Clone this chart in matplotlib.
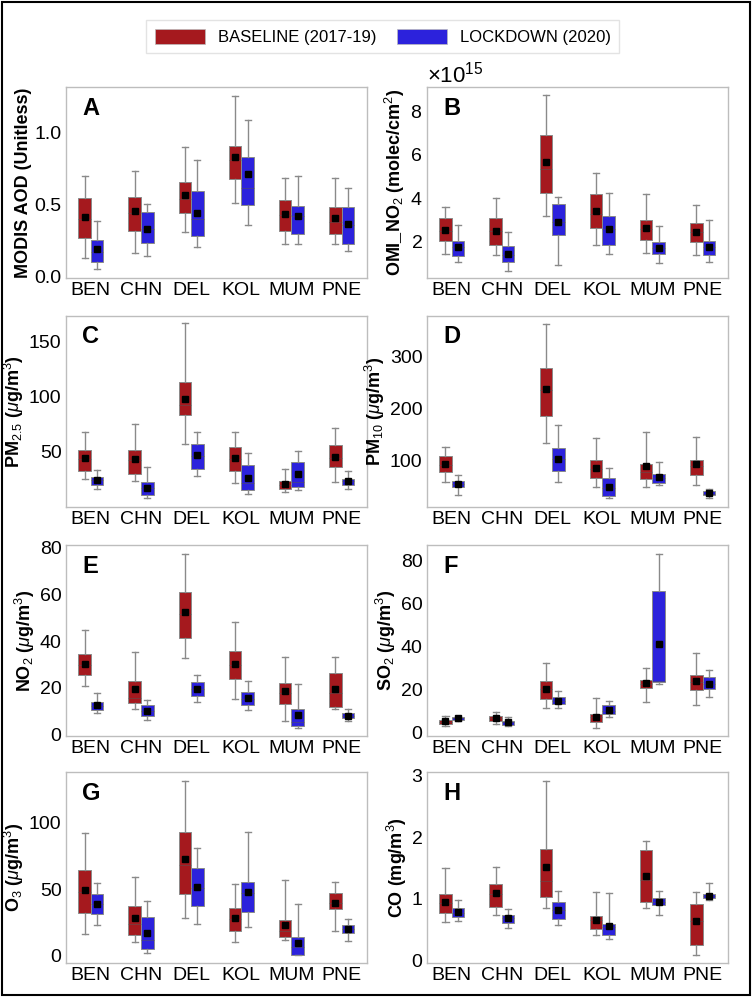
import matplotlib
matplotlib.use("Agg")
import matplotlib.pyplot as plt
from matplotlib.patches import Patch, Rectangle
from matplotlib.ticker import ScalarFormatter

plt.rcParams['font.family'] = ['Liberation Sans', 'DejaVu Sans']
plt.rcParams['mathtext.fontset'] = 'custom'
plt.rcParams['mathtext.rm'] = 'Liberation Sans'
plt.rcParams['mathtext.it'] = 'Liberation Sans:italic'
plt.rcParams['mathtext.bf'] = 'Liberation Sans:bold'

CITIES = ['BEN', 'CHN', 'DEL', 'KOL', 'MUM', 'PNE']
# each row: [whisker_low, q1, median, q3, whisker_high, mean]
aod_base = [[0.127, 0.27, 0.40, 0.55, 0.70, 0.417], [0.162, 0.315, 0.44, 0.556, 0.734, 0.456],
            [0.308, 0.444, 0.537, 0.657, 0.903, 0.569], [0.51, 0.68, 0.81, 0.912, 1.26, 0.833],
            [0.229, 0.315, 0.43, 0.532, 0.688, 0.433], [0.225, 0.294, 0.38, 0.486, 0.683, 0.41]]
aod_lock = [[0.053, 0.104, 0.17, 0.255, 0.39, 0.194], [0.146, 0.234, 0.33, 0.447, 0.507, 0.331],
            [0.204, 0.282, 0.40, 0.593, 0.81, 0.44], [0.356, 0.495, 0.62, 0.831, 1.093, 0.715],
            [0.229, 0.299, 0.42, 0.493, 0.697, 0.424], [0.18, 0.229, 0.36, 0.481, 0.62, 0.368]]
no2col_base = [[1.45, 2.03, 2.5, 3.08, 3.62, 2.55], [1.38, 1.88, 2.5, 3.08, 4.02, 2.52],
               [3.18, 4.26, 5.34, 6.89, 8.72, 5.66], [1.85, 2.65, 3.26, 4.18, 5.15, 3.40],
               [1.48, 2.08, 2.6, 3.0, 4.18, 2.65], [1.4, 2.0, 2.45, 2.86, 3.69, 2.46]]
no2col_lock = [[1.08, 1.34, 1.75, 2.03, 2.77, 1.77], [0.69, 1.06, 1.4, 1.83, 2.46, 1.43],
               [0.95, 2.34, 2.9, 3.75, 4.06, 2.92], [1.46, 1.88, 2.6, 3.18, 4.25, 2.6],
               [1.05, 1.45, 1.72, 1.98, 2.72, 1.74], [1.09, 1.42, 1.75, 2.03, 3.02, 1.75]]
pm25_base = [[25.5, 32.4, 43, 51.5, 67.3, 44], [23, 30, 42, 51.5, 74.8, 43],
             [57, 83, 92, 112.7, 166.7, 97.6], [21.8, 32.4, 43, 54.5, 67.9, 44],
             [13.3, 16.4, 20, 23.6, 34, 20.9], [22.7, 35.5, 44, 56, 70.9, 45]]
pm25_lock = [[15.8, 19.7, 24, 27.3, 33, 24.2], [8.2, 10.6, 17, 22.4, 35.5, 17.3],
             [27.9, 34, 45.5, 56.4, 67.9, 46.7], [11.5, 15, 21.8, 37.6, 49, 26],
             [15.2, 17.9, 22.7, 40.9, 50.6, 30], [15.8, 19.4, 23, 25.5, 32.4, 23.3]]
pm10_base = [[59, 79, 92, 110, 127, 94], None,
             [135, 186, 236, 277, 363, 237], [50, 66.7, 85, 101, 143.6, 87],
             [49.4, 65.4, 79, 93.6, 156, 90], [52.6, 72, 90, 101, 146, 93]]
pm10_lock = [[35, 49.4, 55, 61.5, 72, 55], None,
             [60, 81, 103, 124, 169, 104], [29.5, 32.7, 48, 67.3, 85.3, 50],
             [53.8, 58.3, 67, 74.4, 98, 68], [29.5, 34.6, 37, 42.3, 46, 37.8]]
no2_base = [[20.9, 25.4, 30, 34.3, 44.8, 30.4], [11.1, 13.6, 15.9, 23, 35.3, 19.4],
            [32.9, 41.4, 51.6, 61.1, 77.2, 52.5], [15.5, 23.8, 30, 35.7, 48.2, 30.4],
            [5.8, 13, 18, 22.1, 33.3, 18.6], [10.9, 11.9, 17.9, 26.4, 33.3, 19.4]]
no2_lock = [[9.4, 10.5, 12.5, 14, 17.9, 12.8], [6.5, 8, 10, 12.6, 14.8, 10.1],
            [14.2, 16.5, 19.5, 22.6, 25.5, 19.6], [10.5, 12.6, 15.5, 18.3, 23, 15.7],
            [3.1, 3.7, 5.5, 10.9, 21.8, 8.4], [5.8, 7.2, 8, 9.4, 11.1, 8.1]]
so2_base = [[2.8, 4.0, 5, 5.8, 7.8, 5.1], [3.9, 5.4, 6.5, 7.5, 9.6, 6.7],
            [11.2, 15.7, 20, 24.1, 32.2, 20.4], [2.0, 4.7, 7, 8.6, 16.2, 7.3],
            [14.3, 20.5, 22.5, 24.3, 29.9, 22.9], [12.8, 19.8, 23.5, 26.6, 36.9, 23.8]]
so2_lock = [[5.4, 5.6, 6.5, 7.0, 7.2, 6.5], [3.1, 3.6, 4.7, 5.3, 7.3, 4.7],
            [11.5, 13.1, 14.5, 16.5, 19.1, 14.8], [7.2, 8.4, 10, 12.6, 14.8, 10.4],
            [22.4, 23.5, 24, 66, 83.1, 41.4], [16.7, 20.4, 22.5, 26, 29, 22.7]]
o3_base = [[16, 32.2, 48, 64.5, 92.1, 49.2], [10.2, 15.2, 23.9, 37.1, 59.1, 27.9],
           [28.2, 46.2, 68, 92.9, 131.5, 72.6], [10.2, 18, 27.5, 35.5, 53.6, 28.2],
           [11.7, 13.7, 18.5, 26.4, 56.9, 22.6], [18, 35, 39.5, 47, 55.3, 39.8]]
o3_lock = [[23.1, 31.2, 38.5, 45.9, 54.8, 38.8], [2.0, 4.8, 11.2, 28.7, 41.1, 17],
           [23.9, 37.3, 51, 66.2, 80.7, 51.8], [21.3, 32.5, 47, 55.6, 92.9, 47.5],
           [0, 0, 6.6, 13.7, 39.1, 9.6], [10.7, 16.8, 19.5, 22.6, 27.4, 19.8]]
co_base = [[0.62, 0.76, 0.93, 1.08, 1.49, 0.94], [0.73, 0.87, 1.08, 1.23, 1.52, 1.09],
           [0.855, 1.03, 1.28, 1.80, 2.91, 1.51], [0.41, 0.50, 0.65, 0.72, 1.11, 0.66],
           [0.85, 0.95, 1.30, 1.785, 1.94, 1.37], [0.08, 0.24, 0.64, 0.915, 1.10, 0.64]]
co_lock = [[0.63, 0.70, 0.77, 0.84, 0.975, 0.78], [0.53, 0.61, 0.68, 0.74, 0.83, 0.68],
           [0.57, 0.67, 0.81, 0.94, 1.12, 0.82], [0.35, 0.41, 0.54, 0.59, 1.09, 0.55],
           [0.74, 0.90, 0.95, 1.01, 1.12, 0.95], [0.97, 1.01, 1.04, 1.07, 1.25, 1.05]]

NO2COL_SCALE = 1e15

panels = [
    ('A', 'MODIS AOD (Unitless)', aod_base, aod_lock, 1.0, (-0.01, 1.32), [0.0, 0.5, 1.0], '{:.1f}'),
    ('B', 'OMI_NO$_2$ (molec/cm$^2$)', no2col_base, no2col_lock, NO2COL_SCALE, (0.35e15, 9.1e15), [2e15, 4e15, 6e15, 8e15], None),
    ('C', 'PM$_{2.5}$ ($\\mu$g/m$^3$)', pm25_base, pm25_lock, 1.0, (0, 173), [50, 100, 150], '{:.0f}'),
    ('D', 'PM$_{10}$ ($\\mu$g/m$^3$)', pm10_base, pm10_lock, 1.0, (12, 378), [100, 200, 300], '{:.0f}'),
    ('E', 'NO$_2$ ($\\mu$g/m$^3$)', no2_base, no2_lock, 1.0, (-0.5, 81), [0, 20, 40, 60, 80], '{:.0f}'),
    ('F', 'SO$_2$ ($\\mu$g/m$^3$)', so2_base, so2_lock, 1.0, (-1.7, 87.3), [0, 20, 40, 60, 80], '{:.0f}'),
    ('G', 'O$_3$ ($\\mu$g/m$^3$)', o3_base, o3_lock, 1.0, (-6, 138), [0, 50, 100], '{:.0f}'),
    ('H', 'CO (mg/m$^3$)', co_base, co_lock, 1.0, (-0.05, 3.05), [0, 1, 2, 3], '{:.0f}'),
]

RED = '#A5191E'
BLUE = '#2C22DC'

fig = plt.figure(figsize=(7.52, 9.97), dpi=100)
fig.patch.set_facecolor('white')

lefts = [0.0874, 0.5674]
bottoms = [0.7212, 0.4918, 0.2618, 0.0338]
W, H = 0.4003, 0.1915


def stats_from(rows, scale):
    out, pos = [], []
    for i, r in enumerate(rows):
        if r is None:
            continue
        lo, q1, med, q3, hi, mean = [v * scale for v in r]
        out.append(dict(whislo=lo, q1=q1, med=med, q3=q3, whishi=hi, mean=mean, fliers=[]))
        pos.append(i + 1)
    return out, pos


for k, (letter, ylabel, base, lock, scale, ylim, ticks, fmt) in enumerate(panels):
    r, c = divmod(k, 2)
    ax = fig.add_axes([lefts[c], bottoms[r], W, H])
    for rows, off, col in ((base, -0.125, RED), (lock, 0.125, BLUE)):
        st, pos = stats_from(rows, scale)
        ax.bxp(st, positions=[p + off for p in pos], widths=0.25, capwidths=0.12,
               patch_artist=True, showmeans=True, showfliers=False,
               boxprops=dict(facecolor=col, edgecolor='#8a8a8a', linewidth=0.7),
               whiskerprops=dict(color='#8a8a8a', linewidth=1.0),
               capprops=dict(color='#8a8a8a', linewidth=1.0),
               medianprops=dict(color='#555555', linewidth=0.6, alpha=0.6),
               meanprops=dict(marker='s', markerfacecolor='black', markeredgecolor='black',
                              markersize=4.8))
    ax.set_xlim(0.5, 6.5)
    ax.set_xticks(range(1, 7))
    ax.set_xticklabels(CITIES)
    ax.set_ylim(*ylim)
    ax.set_yticks(ticks)
    if fmt is None:
        sf = ScalarFormatter(useMathText=True)
        sf.set_powerlimits((0, 0))
        ax.yaxis.set_major_formatter(sf)
        ax.yaxis.get_offset_text().set_fontsize(16)
    else:
        ax.set_yticklabels([fmt.format(t) for t in ticks])
    ax.tick_params(axis='both', labelsize=14, length=0, pad=3)
    for s in ax.spines.values():
        s.set_color('#bdbdbd')
        s.set_linewidth(1.0)
    ax.set_ylabel(ylabel, fontsize=13, fontweight='bold', labelpad=2)
    ax.text(0.055, 0.95, letter, transform=ax.transAxes, ha='left', va='top',
            fontsize=17, fontweight='bold')

handles = [Patch(facecolor=RED, edgecolor='#bbbbbb', linewidth=0.5, label='BASELINE (2017-19)'),
           Patch(facecolor=BLUE, edgecolor='#bbbbbb', linewidth=0.5, label='LOCKDOWN (2020)')]
fig.legend(handles=handles, loc='upper center', bbox_to_anchor=(0.509, 0.988), ncol=2,
           fontsize=12, handlelength=3.0, handleheight=1.0, columnspacing=1.2,
           frameon=True, fancybox=False, edgecolor='#dddddd', borderpad=0.5)

fig.patches.append(Rectangle((0.002, 0.002), 0.996, 0.996, transform=fig.transFigure,
                             fill=False, edgecolor='black', linewidth=1.5))

fig.savefig('out.png', dpi=100)
